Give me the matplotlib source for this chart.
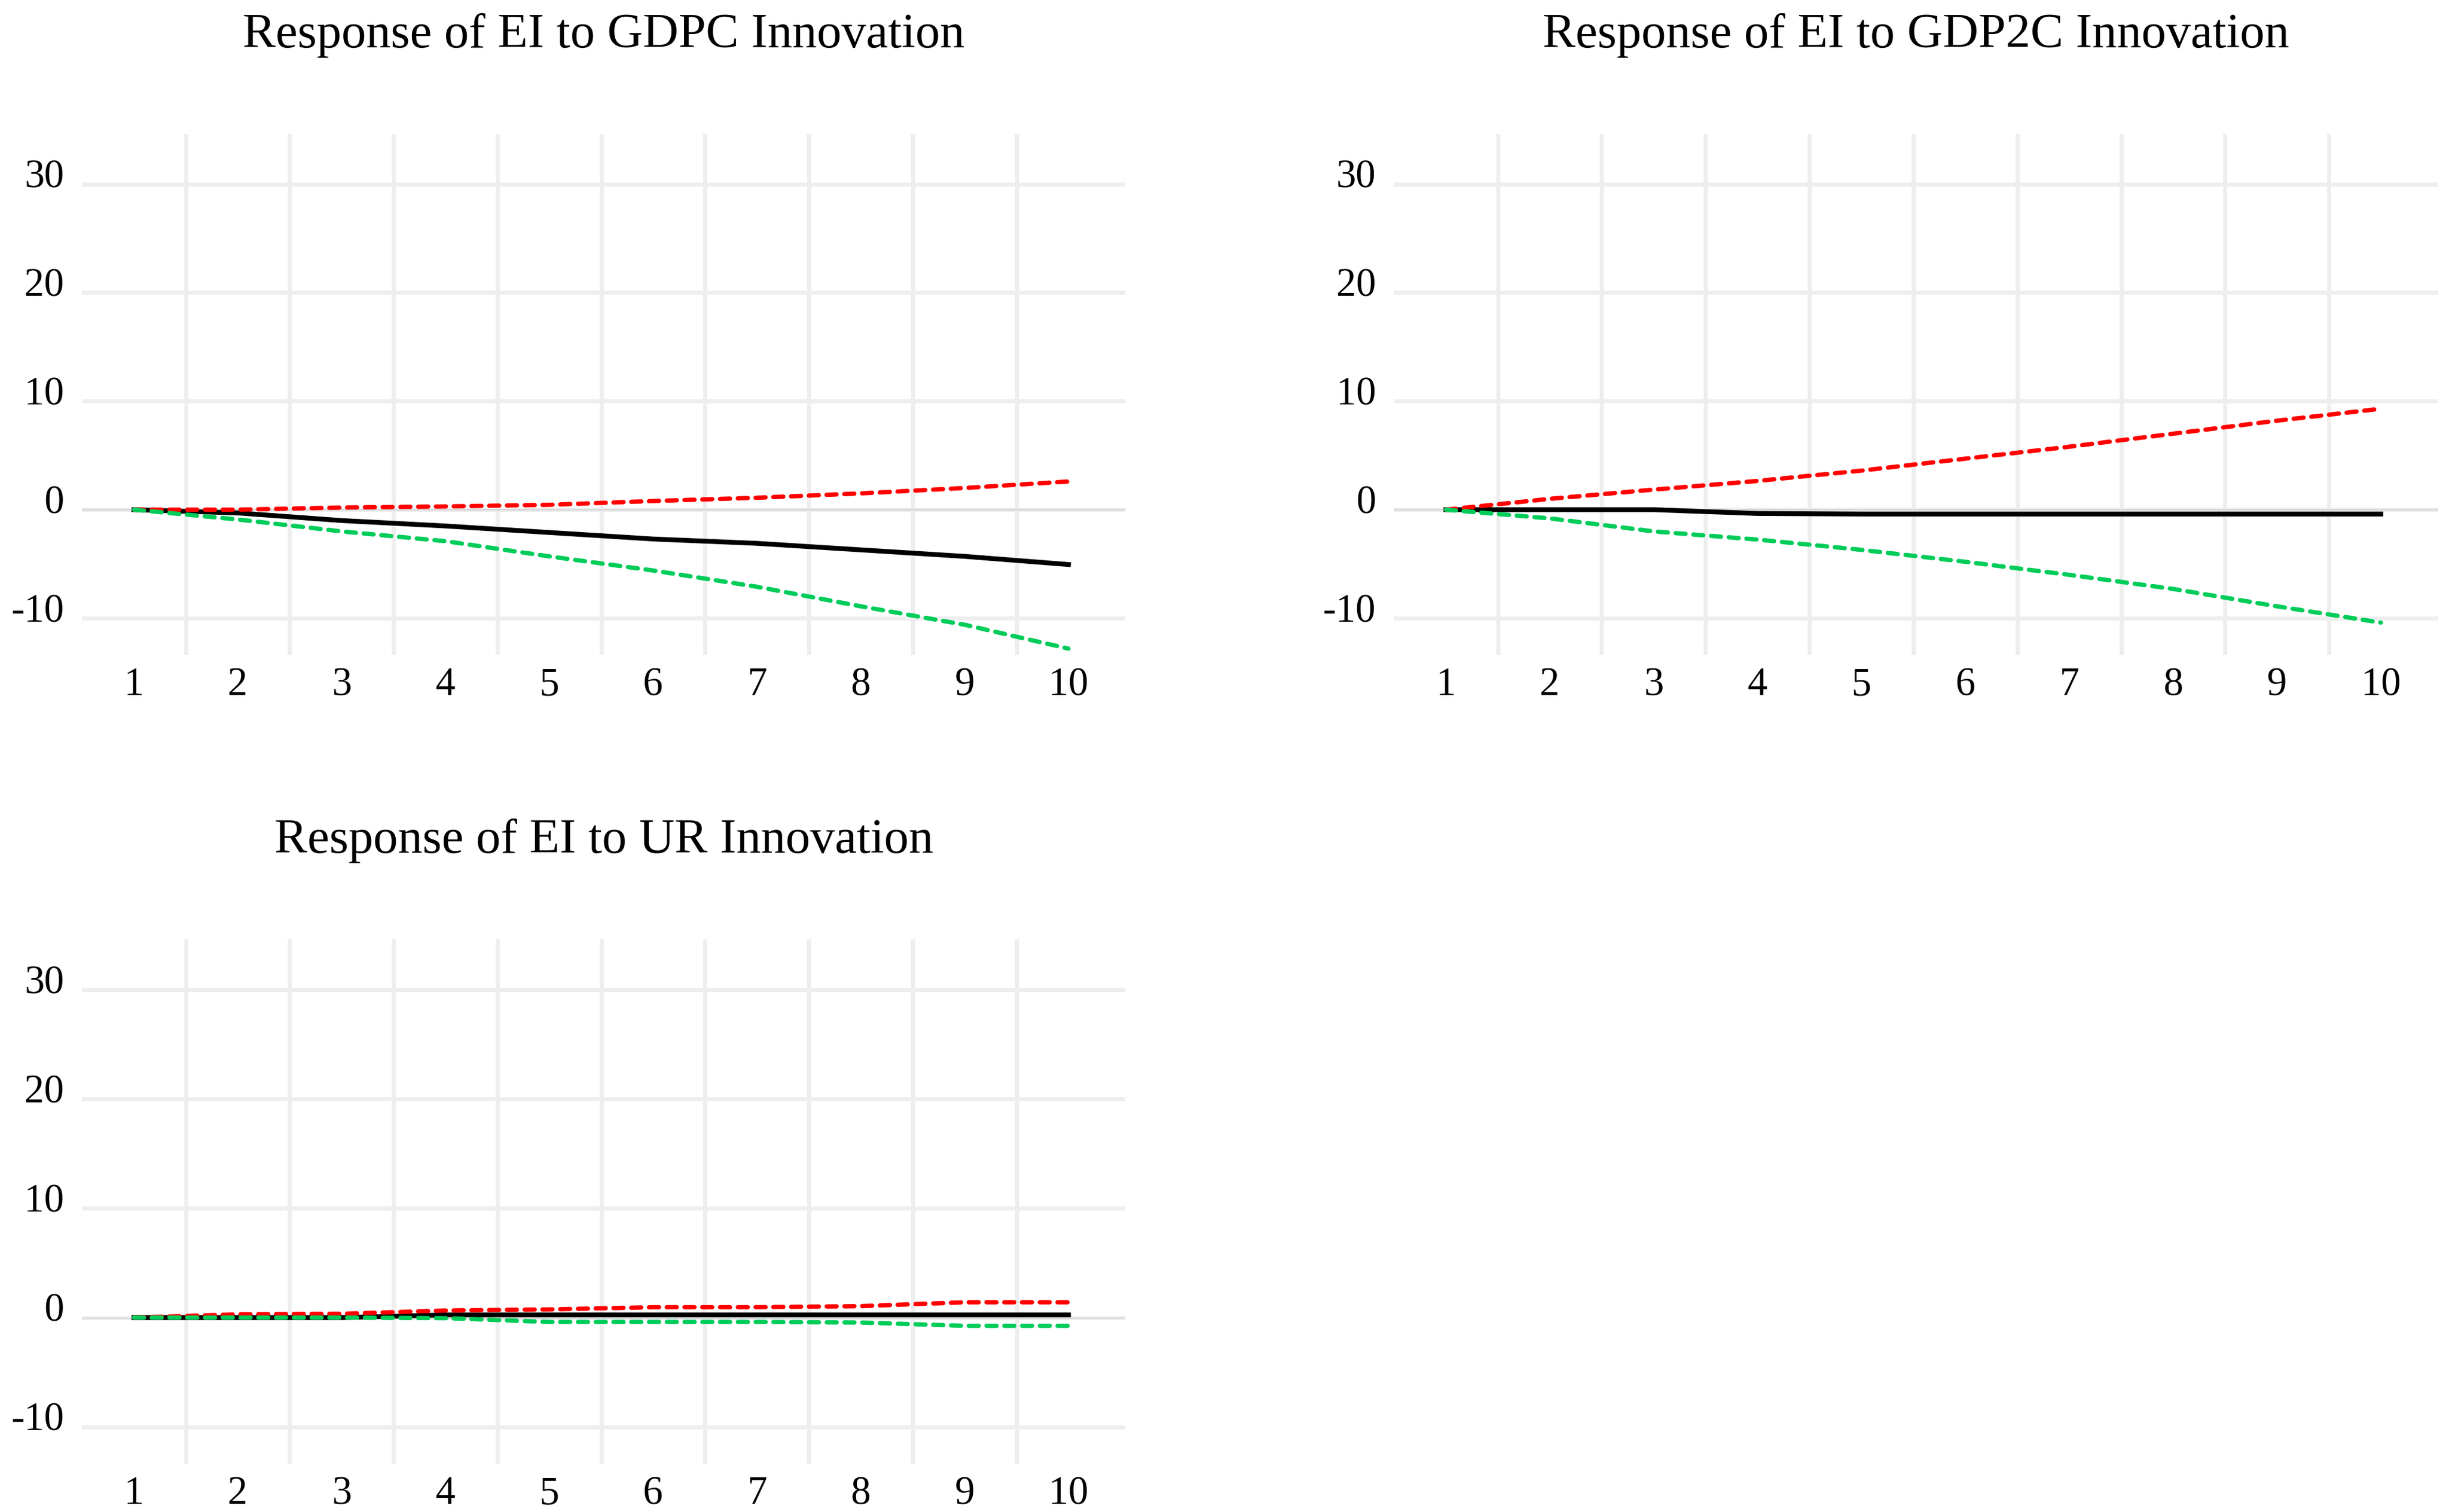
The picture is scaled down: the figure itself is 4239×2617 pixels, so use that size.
import numpy as np
import matplotlib.pyplot as plt
import matplotlib.transforms as mtransforms

plt.rcParams["axes.unicode_minus"] = False

# Impulse responses of EI (periods 1..10): response, upper band, lower band
periods = np.arange(1, 11)

gdpc_resp = [0.0, -0.3, -1.0, -1.5, -2.1, -2.7, -3.1, -3.7, -4.3, -5.05]
gdpc_upper = [0.0, 0.0, 0.2, 0.3, 0.45, 0.8, 1.1, 1.5, 2.0, 2.6]
gdpc_lower = [0.0, -0.9, -2.0, -2.9, -4.3, -5.6, -7.1, -8.9, -10.6, -12.8]

gdp2c_resp = [0.0, 0.0, 0.0, -0.35, -0.4, -0.4, -0.4, -0.4, -0.4, -0.4]
gdp2c_upper = [0.0, 1.0, 1.85, 2.65, 3.6, 4.7, 5.8, 7.0, 8.2, 9.3]
gdp2c_lower = [0.0, -0.8, -2.0, -2.75, -3.7, -4.8, -6.0, -7.3, -8.9, -10.4]

ur_resp = [0.0, 0.0, 0.0, 0.25, 0.25, 0.25, 0.25, 0.25, 0.25, 0.25]
ur_upper = [0.0, 0.3, 0.35, 0.65, 0.75, 0.95, 0.95, 1.05, 1.4, 1.4]
ur_lower = [0.0, 0.0, 0.0, -0.05, -0.4, -0.4, -0.4, -0.45, -0.75, -0.75]

titles = ["Response of EI to GDPC Innovation",
          "Response of EI to GDP2C Innovation",
          "Response of EI to UR Innovation"]

y_ticks = [-10, 0, 10, 20, 30]

FONT = "Liberation Serif"


def draw_panel(ax, title, resp, upper, lower):
    ax.plot(periods, resp, color="black", lw=2.0, zorder=3)
    ax.plot(periods, upper, color="#ff0000", lw=1.8, zorder=4,
            dashes=(2.3, 1.8), dash_capstyle="round")
    ax.plot(periods, lower, color="#00cc5a", lw=1.8, zorder=5,
            dashes=(2.3, 1.8), dash_capstyle="round")
    ax.axhline(0, color="#c8c8c8", lw=0.35, zorder=2)

    ax.set_xlim(0.5, 10.55)
    ax.set_ylim(-13.4, 34.6)
    ax.set_xticks(periods)
    ax.set_xticks(np.arange(1.5, 10.0, 1.0), minor=True)
    ax.set_yticks(y_ticks)
    ax.grid(True, which="minor", axis="x", color="#eeeeee", lw=1.7, zorder=0)
    ax.grid(True, which="major", axis="y", color="#eeeeee", lw=1.7, zorder=0)
    ax.grid(False, which="major", axis="x")
    ax.tick_params(which="both", length=0)
    ax.tick_params(axis="x", pad=5, labelsize=16.5)
    ax.tick_params(axis="y", pad=7.5, labelsize=16.5)
    shift = mtransforms.ScaledTranslation(0, -1.5 / 72, ax.figure.dpi_scale_trans)
    for lab in ax.get_xticklabels() + ax.get_yticklabels():
        lab.set_fontfamily(FONT)
    for lab in ax.get_yticklabels():
        lab.set_va("baseline")
        lab.set_transform(lab.get_transform() + shift)
    for s in ax.spines.values():
        s.set_visible(False)
    ax.set_title(title, fontsize=20.5, fontfamily=FONT, pad=36)


fig = plt.figure(figsize=(4239 / 300, 2617 / 300), dpi=300)

ax1 = fig.add_axes([0.0335, 0.5667, 0.4261, 0.3446])
ax2 = fig.add_axes([0.5692, 0.5667, 0.4263, 0.3446])
ax3 = fig.add_axes([0.0335, 0.0317, 0.4261, 0.3470])

draw_panel(ax1, titles[0], gdpc_resp, gdpc_upper, gdpc_lower)
draw_panel(ax2, titles[1], gdp2c_resp, gdp2c_upper, gdp2c_lower)
draw_panel(ax3, titles[2], ur_resp, ur_upper, ur_lower)

fig.savefig("out.png", dpi=300, facecolor="white")
